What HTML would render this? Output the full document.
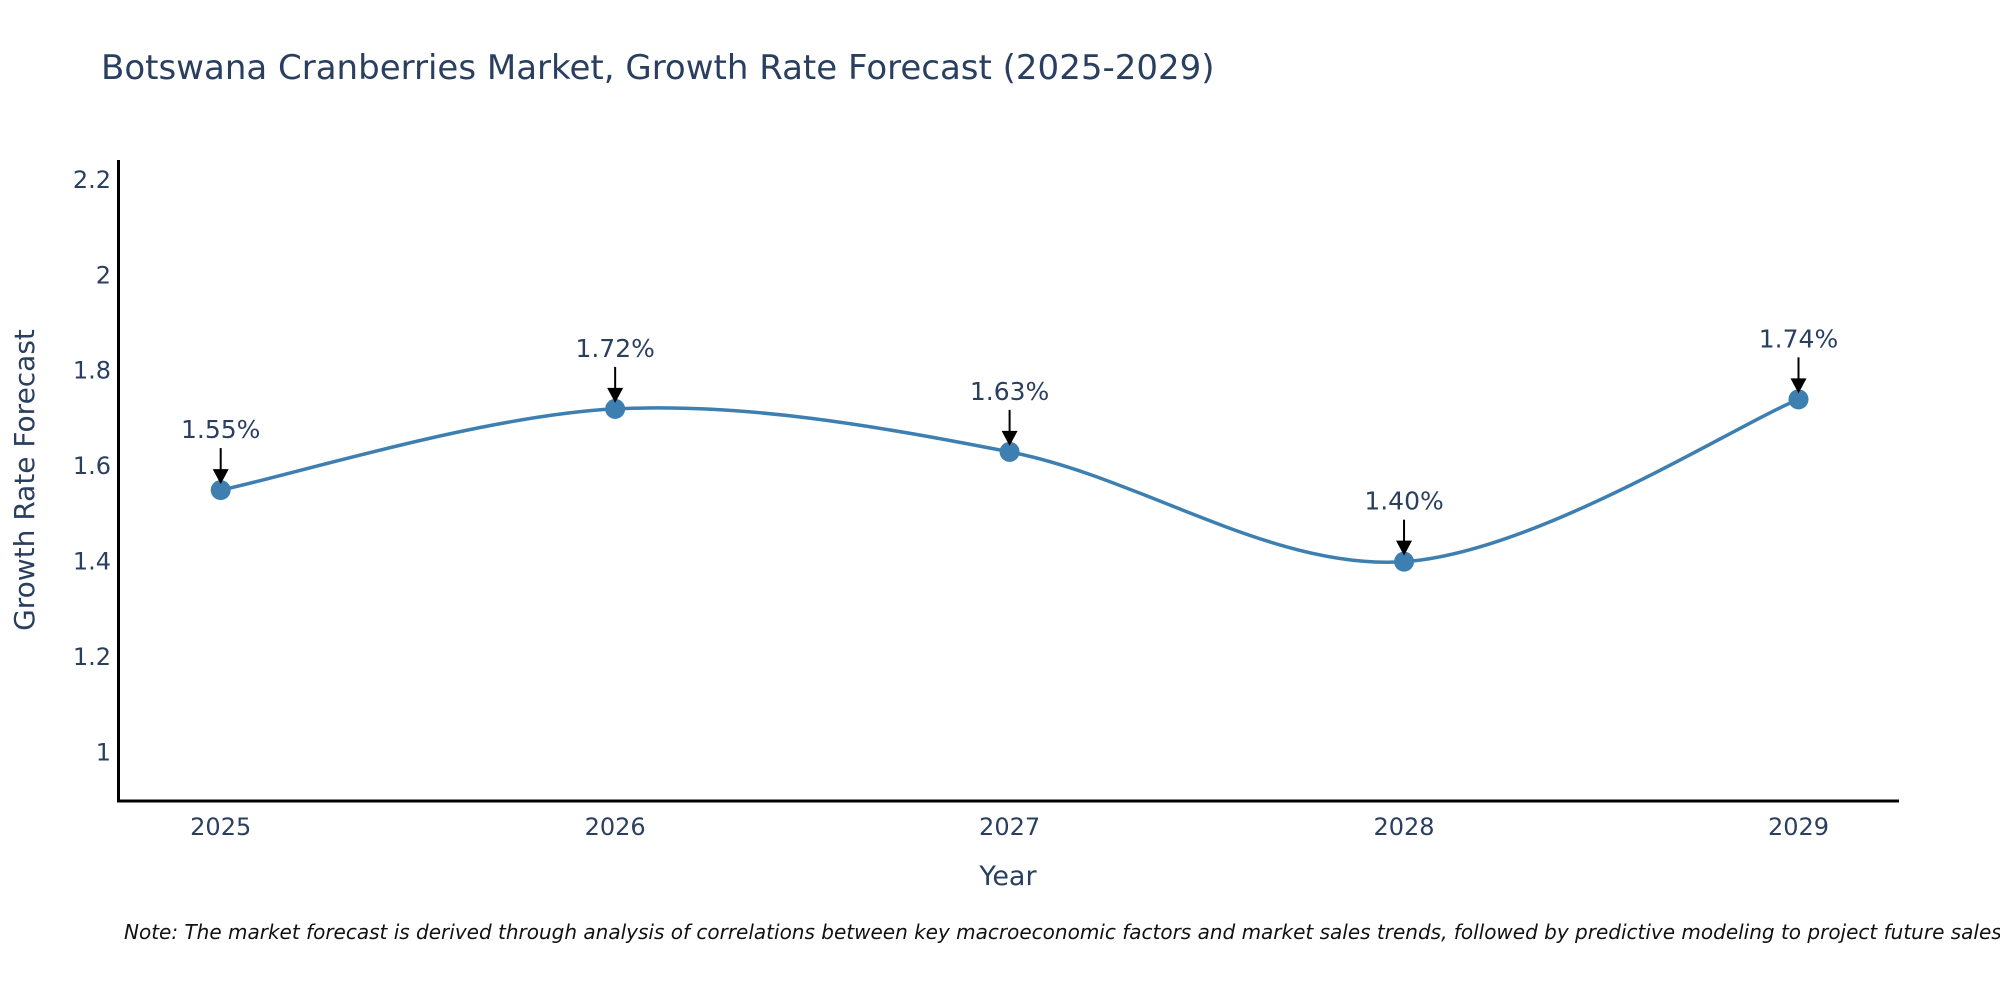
<!DOCTYPE html>
<html><head><meta charset="utf-8"><style>
body{margin:0;background:#fff;}
svg{display:block;font-family:"DejaVu Sans","Liberation Sans",sans-serif;}
</style></head><body>
<svg id="chart" width="2000" height="1000">
<text x="101" y="79" font-size="34" fill="#2a3f5f">Botswana Cranberries Market, Growth Rate Forecast (2025-2029)</text>
<g id="yticks"></g><g id="xticks"></g>
<line x1="118.5" y1="160" x2="118.5" y2="802" stroke="#000" stroke-width="3"/>
<line x1="117" y1="801" x2="1899" y2="801" stroke="#000" stroke-width="3"/>
<text transform="translate(34,480) rotate(-90)" text-anchor="middle" font-size="28" fill="#2a3f5f">Growth Rate Forecast</text>
<text x="1008" y="885" text-anchor="middle" font-size="27" fill="#2a3f5f">Year</text>
<g id="series"></g>
<text x="124" y="939" font-size="20" font-style="italic" fill="#111">Note: The market forecast is derived through analysis of correlations between key macroeconomic factors and market sales trends, followed by predictive modeling to project future sales.</text>
</svg>
<script>
const years = ["2025","2026","2027","2028","2029"];
const values = [1.55, 1.72, 1.63, 1.40, 1.74];
const yTicks = [1, 1.2, 1.4, 1.6, 1.8, 2, 2.2];
const yTickLabels = ["1","1.2","1.4","1.6","1.8","2","2.2"];

const NS="http://www.w3.org/2000/svg";
const xs = i => 220.7 + i*(1798.5-220.7)/(years.length-1);
const ys = v => 752.6 - (v-1)*(752.6-179.8)/1.2;
function mk(tag, attrs, parent){const e=document.createElementNS(NS,tag);for(const k in attrs)e.setAttribute(k,attrs[k]);parent.appendChild(e);return e;}

const yt=document.getElementById('yticks');
yTicks.forEach((v,i)=>{
  const t=mk('text',{x:111,y:ys(v)+8,'text-anchor':'end','font-size':24,fill:'#2a3f5f'},yt);
  
  
  t.textContent=yTickLabels[i];
});
const xt=document.getElementById('xticks');
years.forEach((y,i)=>{
  const t=mk('text',{x:xs(i),y:835,'text-anchor':'middle','font-size':24,fill:'#2a3f5f'},xt);
  
  
  t.textContent=y;
});

const s=document.getElementById('series');
const pts=values.map((v,i)=>[xs(i),ys(v)]);
let d=`M${pts[0][0]},${pts[0][1]}`;
for(let i=0;i<pts.length-1;i++){
  const p0=pts[Math.max(i-1,0)],p1=pts[i],p2=pts[i+1],p3=pts[Math.min(i+2,pts.length-1)];
  const k=1/6;
  const c1=[p1[0]+(p2[0]-p0[0])*k,p1[1]+(p2[1]-p0[1])*k];
  const c2=[p2[0]-(p3[0]-p1[0])*k,p2[1]-(p3[1]-p1[1])*k];
  d+=` C${c1[0]},${c1[1]} ${c2[0]},${c2[1]} ${p2[0]},${p2[1]}`;
}
const line=mk('path',{d:d,fill:'none',stroke:'#3d7fb1','stroke-width':3.5},s);


pts.forEach((p,i)=>{
  const c=mk('circle',{cx:p[0],cy:p[1],r:10,fill:'#3d7fb1'},s);
  
  
  const a=mk('line',{x1:p[0],y1:p[1]-42,x2:p[0],y2:p[1]-18,stroke:'#000','stroke-width':2},s);
  
  
  const h=mk('polygon',{points:`${p[0]-8},${p[1]-21} ${p[0]+8},${p[1]-21} ${p[0]},${p[1]-6}`,fill:'#000'},s);
  
  
  const t=mk('text',{x:p[0],y:p[1]-52,'text-anchor':'middle','font-size':25,fill:'#2a3f5f'},s);
  
  
  t.textContent=values[i].toFixed(2)+'%';
});
</script>
</body></html>
